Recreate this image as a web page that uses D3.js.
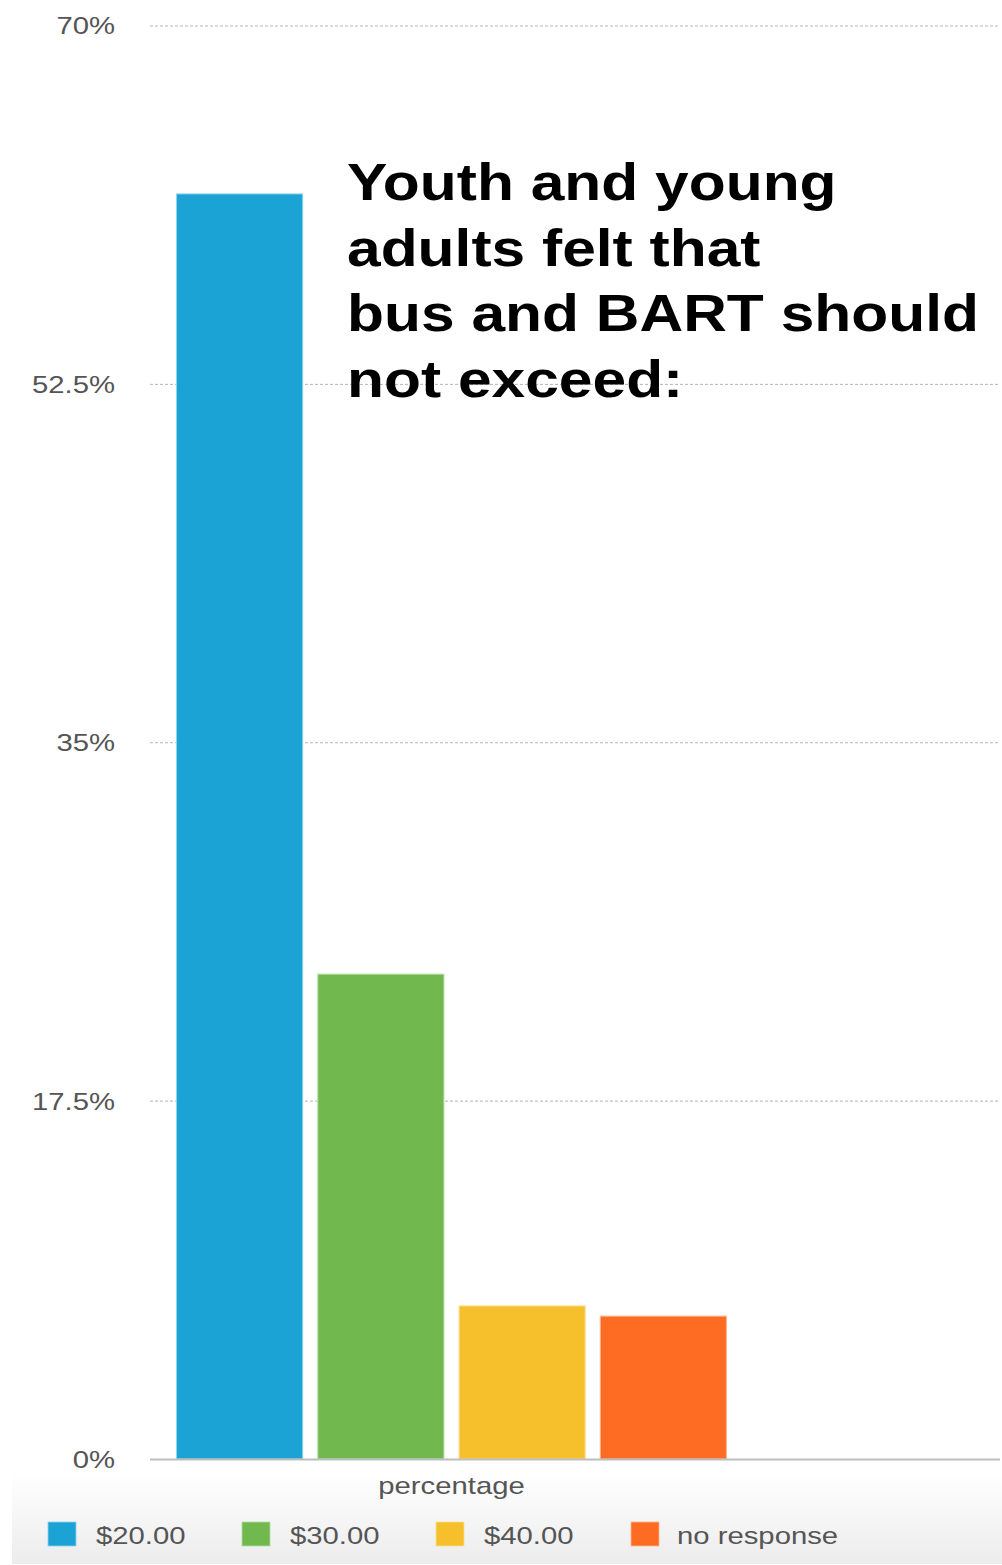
<!DOCTYPE html>
<html>
<head>
<meta charset="utf-8">
<script src="https://cdn.jsdelivr.net/npm/d3@7"></script>
<style>
  html, body { margin: 0; padding: 0; background: #fff; }
  svg { display: block; font-family: "Liberation Sans", Arial, Helvetica, sans-serif; }
</style>
</head>
<body>
<svg id="chart" width="1002" height="1565"></svg>
<script>
const categories = ["$20.00", "$30.00", "$40.00", "no response"];
const values = [61.8, 23.7, 7.5, 7.0];
const colors = ["#1ba3d6", "#71b94e", "#f5c02c", "#fd6c22"];
const strokes = ["#8fd2ec", "#b5dca3", "#fadf95", "#feb48f"];
const tickValues = [0, 17.5, 35, 52.5, 70];
const tickLabels = ["0%", "17.5%", "35%", "52.5%", "70%"];
const groupLabel = "percentage";
const titleLines = ["Youth and young", "adults felt that", "bus and BART should", "not exceed:"];

const SX = 1.22;   // horizontal stretch of small text seen in the reference
const TSX = 1.164; // horizontal stretch of title text

const svg = d3.select("#chart");
const defs = svg.append("defs");
const grad = defs.append("linearGradient").attr("id", "legbg").attr("x1", 0).attr("y1", 0).attr("x2", 0).attr("y2", 1);
grad.append("stop").attr("offset", "0%").attr("stop-color", "#ffffff");
grad.append("stop").attr("offset", "100%").attr("stop-color", "#ececec");

// legend panel background
svg.append("rect").attr("x", 12).attr("y", 1473).attr("width", 990).attr("height", 91).attr("fill", "url(#legbg)");

const y = d3.scaleLinear().domain([0, 70]).range([1459, 25.5]);
const x = d3.scaleBand().domain(categories).range([169, 734]).paddingInner(0.1).paddingOuter(0.05);

// gridlines
svg.append("g").selectAll("line").data(tickValues.filter(v => v > 0)).join("line")
  .attr("x1", 150).attr("x2", 1000)
  .attr("y1", d => y(d) + 0.5).attr("y2", d => y(d) + 0.5)
  .attr("stroke", "#b5b5b5").attr("stroke-width", 1).attr("stroke-dasharray", "3,2");

// y axis labels
const yAxis = d3.axisLeft(y).tickValues(tickValues).tickFormat((d, i) => tickLabels[i]).tickSize(0).tickPadding(0);
const ga = svg.append("g").attr("transform", "translate(115,0)").call(yAxis);
ga.select(".domain").remove();
ga.selectAll("text").attr("font-size", 24).attr("fill", "#555")
  .attr("font-family", "Liberation Sans, Arial, sans-serif").attr("dy", "0.35em")
  .attr("x", 0).attr("transform", `scale(${SX},1)`);

// bars
svg.append("g").selectAll("rect").data(values).join("rect")
  .attr("x", (d, i) => x(categories[i]) + 0.5)
  .attr("y", d => y(d) + 0.5)
  .attr("width", x.bandwidth() - 1)
  .attr("height", d => y(0) - y(d) - 0.5)
  .attr("fill", (d, i) => colors[i])
  .attr("stroke", (d, i) => strokes[i]).attr("stroke-width", 1);

// baseline
svg.append("line").attr("x1", 150).attr("x2", 1000).attr("y1", y(0) + 0.5).attr("y2", y(0) + 0.5)
  .attr("stroke", "#bdbdbd").attr("stroke-width", 2);

// group label
const gx = (x(categories[0]) + x(categories[3]) + x.bandwidth()) / 2;
svg.append("text").attr("transform", `translate(${gx},1494) scale(${SX},1)`)
  .attr("text-anchor", "middle").attr("font-size", 24).attr("fill", "#555").text(groupLabel);

// title
const title = svg.append("g").attr("transform", `translate(347,0) scale(${TSX},1)`)
  .append("text").attr("font-size", 52).attr("font-weight", "bold").attr("fill", "#000");
titleLines.forEach((t, i) => {
  title.append("tspan").attr("x", 0).attr("y", 200 + i * 65.7).text(t);
});

// legend
const legX = [48, 242, 436, 631];
const lg = svg.append("g").selectAll("g").data(categories).join("g")
  .attr("transform", (d, i) => `translate(${legX[i]},1522)`);
lg.append("rect").attr("width", 28).attr("height", 24).attr("fill", (d, i) => colors[i])
  .attr("stroke", (d, i) => strokes[i]).attr("stroke-width", 0.8);
lg.append("text").attr("transform", (d, i) => `translate(${i === 3 ? 46 : 48},22) scale(${SX},1)`)
  .attr("font-size", 24).attr("fill", "#555").text(d => d);
</script>
</body>
</html>
